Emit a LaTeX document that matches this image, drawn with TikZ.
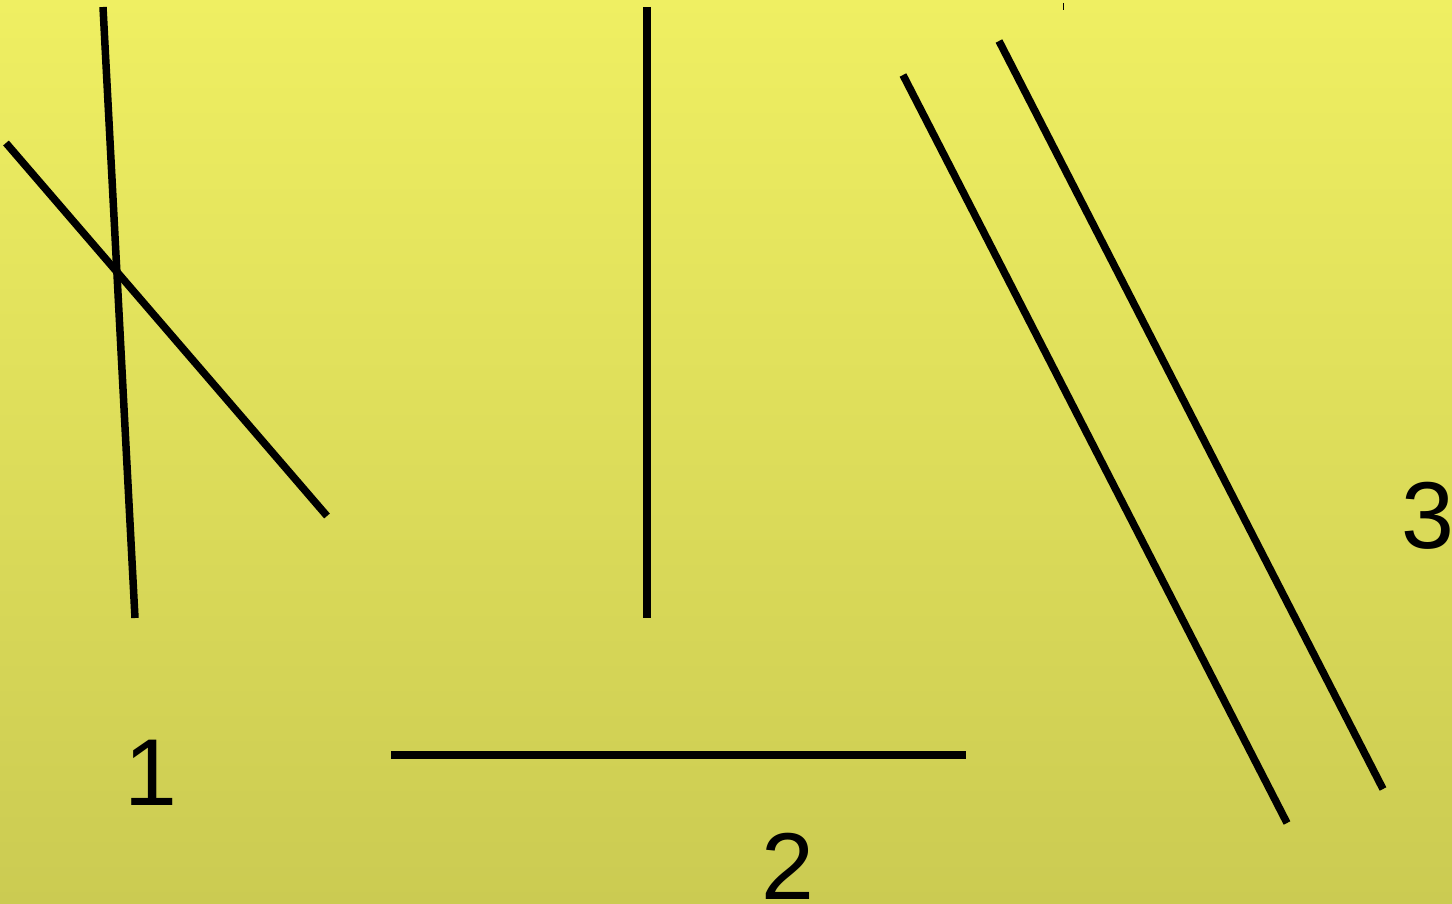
\documentclass[tikz,border=0pt]{standalone}
\usepackage{fontspec}
\setmainfont{Liberation Sans}
\definecolor{bgtop}{HTML}{EFEF62}
\definecolor{bgbot}{HTML}{CBCB52}
\begin{document}
\begin{tikzpicture}[x=1pt,y=-1pt,
  stroke/.style={line width=7.5pt,black},
  lbl/.style={inner sep=0pt,anchor=base,font=\fontsize{95}{95}\selectfont}]
\shade[top color=bgtop,bottom color=bgbot] (0,0) rectangle (1452,904);
\useasboundingbox (0,0) rectangle (1452,904);
\coordinate (a1) at (103,7);   \coordinate (a2) at (135,618);
\coordinate (b1) at (6,143);   \coordinate (b2) at (327,516);
\coordinate (c1) at (647,7);   \coordinate (c2) at (647,618);
\coordinate (d1) at (391,755); \coordinate (d2) at (966,755);
\coordinate (e1) at (903,75);  \coordinate (e2) at (1287,823);
\coordinate (f1) at (999,41);  \coordinate (f2) at (1383,789);
\coordinate (m1) at (1063,3);  \coordinate (m2) at (1063,10);
\draw[stroke] (a1) -- (a2);
\draw[stroke] (b1) -- (b2);
\draw[stroke] (c1) -- (c2);
\draw[stroke] (d1) -- (d2);
\draw[stroke] (e1) -- (e2);
\draw[stroke] (f1) -- (f2);
\draw[line width=1pt,black] (m1) -- (m2);
\node[lbl] (l1) at (151,805) {1};
\node[lbl] (l2) at (788,899) {2};
\node[lbl] (l3) at (1428,548) {3};
\end{tikzpicture}
\end{document}
